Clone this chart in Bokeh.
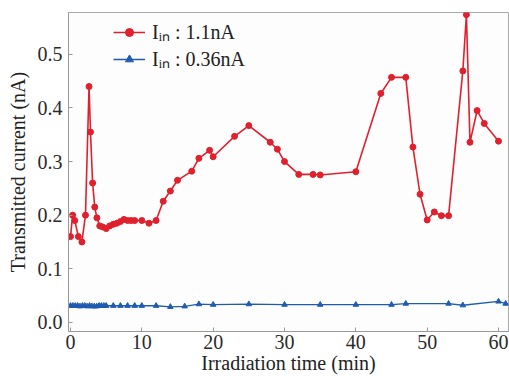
from bokeh.plotting import figure
from bokeh.models import Range1d, FixedTicker, Legend, LegendItem, NumeralTickFormatter
from bokeh.embed import file_html
from bokeh.resources import INLINE

# Red series: I_in = 1.1 nA
t_red = [0, 0.3, 0.6, 1.1, 1.6, 2.1, 2.6, 2.8, 3.1, 3.4, 3.7, 4.1, 4.5, 5.0, 5.5,
         6.0, 6.5, 7.0, 7.5, 8.0, 8.5, 9.0, 10.0, 11.0, 12.0, 13.0, 14.0, 15.0,
         17.0, 18.0, 19.5, 20.0, 23.0, 25.0, 28.0, 29.0, 30.0, 32.0, 34.0, 35.0,
         40.0, 43.5, 45.0, 47.0, 48.0, 49.0, 50.0, 51.0, 52.0, 53.0, 55.0, 55.5,
         56.0, 57.0, 58.0, 60.0]
i_red = [0.16, 0.20, 0.19, 0.16, 0.15, 0.20, 0.44, 0.355, 0.26, 0.215, 0.195,
         0.18, 0.178, 0.175, 0.18, 0.183, 0.185, 0.188, 0.192, 0.19, 0.19, 0.19,
         0.19, 0.185, 0.19, 0.226, 0.245, 0.265, 0.282, 0.306, 0.321, 0.309,
         0.347, 0.367, 0.336, 0.323, 0.30, 0.276, 0.276, 0.275, 0.281, 0.427,
         0.457, 0.457, 0.327, 0.239, 0.191, 0.206, 0.199, 0.199, 0.469, 0.574,
         0.336, 0.395, 0.371, 0.338]

# Blue series: I_in = 0.36 nA
t_blue = [0, 0.33, 0.67, 1.0, 1.33, 1.67, 2.0, 2.33, 2.67, 3.0, 3.33, 3.67, 4.0,
          4.33, 4.67, 5.0, 6, 7, 8, 9, 10, 12, 14, 16, 18, 20, 25, 30, 35, 40,
          45, 47, 53, 55, 60, 61]
i_blue = [0.031, 0.031, 0.031, 0.031, 0.030, 0.031, 0.031, 0.030, 0.031, 0.030,
          0.030, 0.030, 0.031, 0.031, 0.031, 0.031, 0.031, 0.031, 0.031, 0.031,
          0.031, 0.031, 0.029, 0.030, 0.034, 0.033, 0.034, 0.033, 0.033, 0.033,
          0.033, 0.035, 0.035, 0.032, 0.039, 0.035]

x_ticks = [0, 10, 20, 30, 40, 50, 60]
y_ticks = [0.0, 0.1, 0.2, 0.3, 0.4, 0.5]
label_red = "I\u1d62\u2099 : 1.1nA"
label_blue = "I\u1d62\u2099 : 0.36nA"

RED = "#e0202c"
BLUE = "#1f5cb0"
FONT = "Liberation Serif"

p = figure(width=509, height=376, output_backend="svg", toolbar_location=None,
           x_range=Range1d(-0.28, 61.4), y_range=Range1d(-0.017, 0.578),
           min_border_left=68, min_border_right=1, min_border_top=12,
           min_border_bottom=43)
p.background_fill_color = "#fdfdfd"
p.border_fill_color = "white"
p.outline_line_color = "#aaaaaa"
p.xgrid.visible = False
p.ygrid.visible = False

r1 = p.line(t_red, i_red, line_color=RED, line_width=1.6)
m1 = p.scatter(t_red, i_red, marker="circle", size=6, fill_color=RED, line_color=RED)
r2 = p.line(t_blue, i_blue, line_color=BLUE, line_width=1.3)
m2 = p.scatter(t_blue, i_blue, marker="triangle", size=5.5, fill_color=BLUE, line_color=BLUE)

for ax in (p.xaxis[0], p.yaxis[0]):
    ax.axis_line_color = "#999999"
    ax.major_tick_line_color = "#999999"
    ax.major_tick_in = 4
    ax.major_tick_out = 0
    ax.minor_tick_line_color = None
    ax.major_label_text_font = FONT
    ax.major_label_text_font_size = "20px"
    ax.major_label_text_color = "#2a2a2a"
    ax.axis_label_text_font = FONT
    ax.axis_label_text_font_size = "20px"
    ax.axis_label_text_font_style = "normal"
    ax.axis_label_text_color = "#222222"

p.xaxis.ticker = FixedTicker(ticks=x_ticks)
p.yaxis.ticker = FixedTicker(ticks=y_ticks)
p.yaxis.formatter = NumeralTickFormatter(format="0.0")
p.xaxis.axis_label = "Irradiation time (min)"
p.yaxis.axis_label = "Transmitted current (nA)"
p.xaxis.major_label_standoff = 3
p.xaxis.axis_label_standoff = 0
p.yaxis.major_label_standoff = 6
p.yaxis.axis_label_standoff = 6

legend = Legend(items=[LegendItem(label=label_red, renderers=[r1, m1]),
                       LegendItem(label=label_blue, renderers=[r2, m2])],
                location=(45, 259), background_fill_alpha=0, border_line_color=None,
                padding=0, spacing=-3, glyph_width=32, glyph_height=20,
                label_height=20, label_standoff=7, label_text_font=FONT,
                label_text_font_size="20px", label_text_color="#222222")
p.add_layout(legend)

open("out.html", "w").write(file_html(p, INLINE))
